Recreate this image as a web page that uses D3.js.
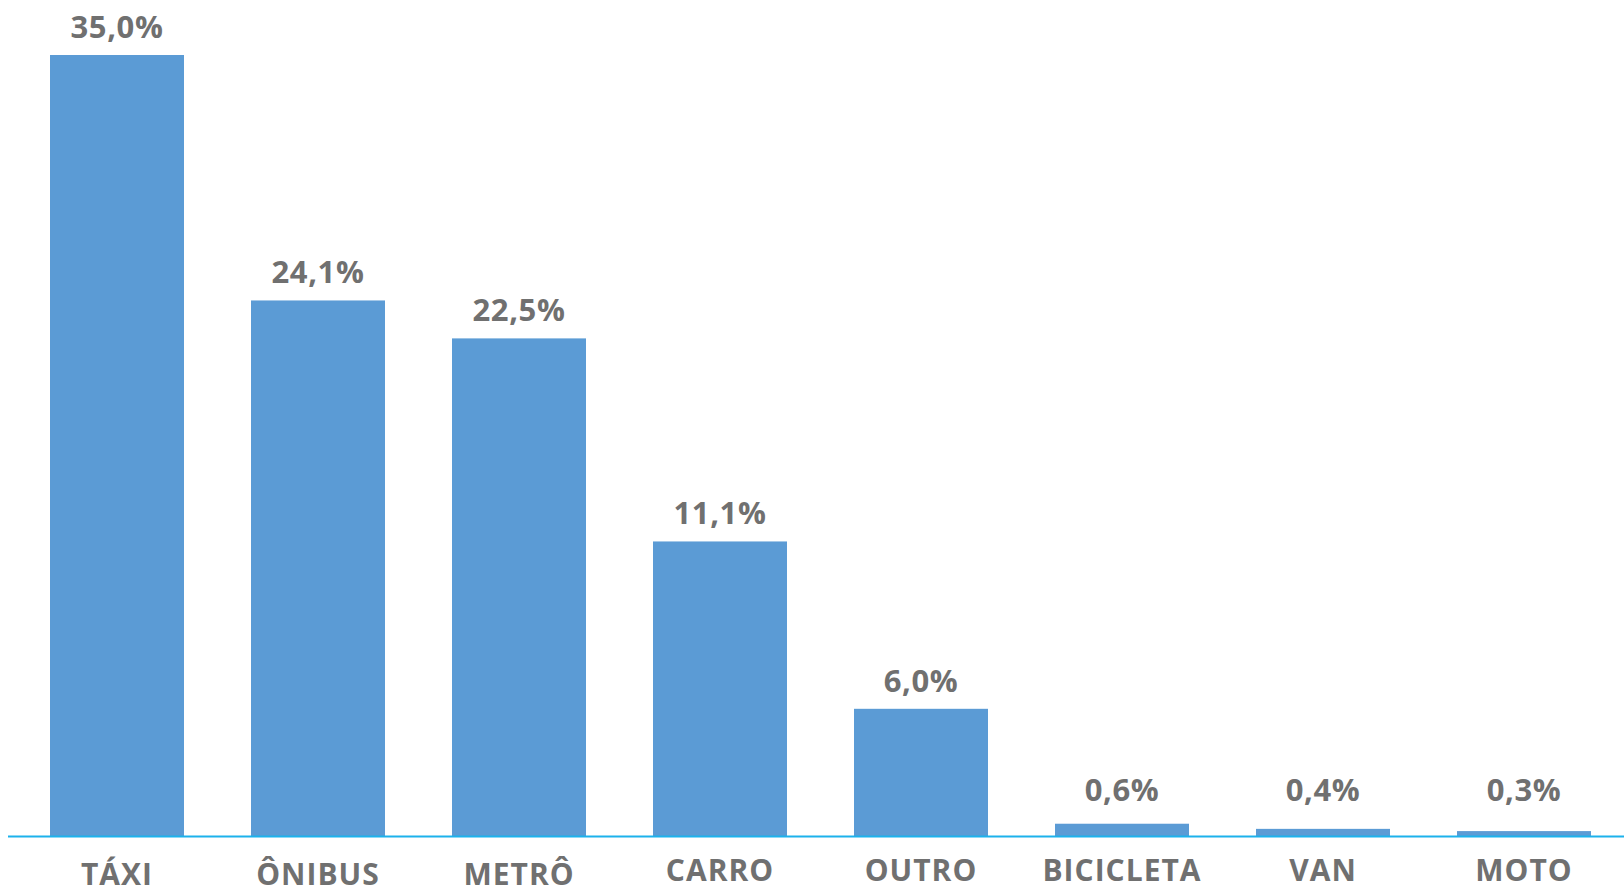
<!DOCTYPE html>
<html>
<head>
<meta charset="utf-8">
<script src="https://cdn.jsdelivr.net/npm/d3@7"></script>
<style>
	html, body { margin: 0; padding: 0; background: #fff; }
	#chart { width: 1624px; height: 888px; }
	text { font-family: "Open Sans", sans-serif; font-weight: 700; fill: #707070; }
</style>
</head>
<body>
<div id="chart"></div>
<script>
// categories along the x axis
const categories = ['TÁXI', 'ÔNIBUS', 'METRÔ', 'CARRO', 'OUTRO', 'BICICLETA', 'VAN', 'MOTO'];
// bar heights (in %)
const barValues = [35.0, 24.0, 22.3, 13.2, 5.7, 0.55, 0.32, 0.22];
// the labels printed above the bars
const valueLabels = ['35,0%', '24,1%', '22,5%', '11,1%', '6,0%', '0,6%', '0,4%', '0,3%'];

const BarChart = function (options) {
	this.el = options.el;
	this.width = 1624;
	this.height = 888;
	this.svg = d3.select(this.el).append('svg')
		.attr('width', this.width)
		.attr('height', this.height);
};

BarChart.prototype.draw = function () {
	var x = d3.scaleBand()
		.domain(categories)
		.range([16.5, 1624.5])
		.paddingInner(1 / 3)
		.paddingOuter(1 / 6);

	var y = d3.scaleLinear()
		.domain([0, 35])
		.range([836, 55]);

	var data = categories.map(function (c, i) {
		return { cat: c, value: barValues[i], label: valueLabels[i] };
	});

	this.svg.selectAll('.bar').data(data)
		.enter().append('rect')
		.attr('class', 'bar')
		.attr('x', function (d) { return x(d.cat); })
		.attr('width', x.bandwidth())
		.attr('y', function (d) { return y(d.value); })
		.attr('height', function (d) { return y(0) - y(d.value); })
		.attr('fill', '#5b9bd5');

	// baseline
	this.svg.append('line')
		.attr('x1', 8)
		.attr('x2', this.width)
		.attr('y1', y(0) + 0.5)
		.attr('y2', y(0) + 0.5)
		.attr('stroke', '#1cb2ec')
		.attr('stroke-width', 2);

	// tiny bars keep their label at a minimum height
	this.svg.selectAll('.value').data(data)
		.enter().append('text')
		.attr('class', 'value')
		.attr('x', function (d) { return x(d.cat) + x.bandwidth() / 2; })
		.attr('y', function (d) { return Math.min(y(d.value), y(0.8)) - 17; })
		.attr('text-anchor', 'middle')
		.style('font-size', '31px')
		.style('letter-spacing', '0.6px')
		.text(function (d) { return d.label; });

	// accented labels sit a bit lower, like in the original
	this.svg.selectAll('.cat').data(data)
		.enter().append('text')
		.attr('class', 'cat')
		.attr('x', function (d) { return x(d.cat) + x.bandwidth() / 2; })
		.attr('y', function (d) { return /[ÁÂÃÉÊÍÓÔÕÚ]/.test(d.cat) ? 885 : 881; })
		.attr('text-anchor', 'middle')
		.style('font-size', '30px')
		.style('letter-spacing', '1px')
		.text(function (d) { return d.cat; });
};

new BarChart({ el: document.getElementById('chart') }).draw();
</script>
</body>
</html>
